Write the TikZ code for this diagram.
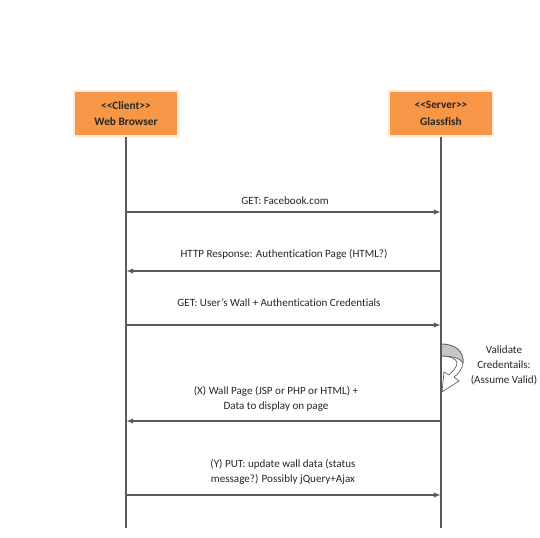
\documentclass[tikz,border=0pt]{standalone}
\usepackage{fontspec}
\setmainfont{Carlito}[Ligatures=NoCommon]
\usetikzlibrary{arrows.meta}
\definecolor{boxorange}{HTML}{F79646}
\definecolor{boxedge}{HTML}{FDEADA}
\definecolor{linegray}{HTML}{5A5A5A}
\definecolor{txt}{HTML}{262626}
\begin{document}
\begin{tikzpicture}[x=0.75pt,y=-0.75pt,
  actor/.style={draw=boxedge,line width=1.2pt,fill=boxorange,minimum width=78pt,minimum height=34pt,
    align=center,font=\fontsize{8.5}{12.5}\selectfont\bfseries,text=txt,inner sep=0pt},
  lifeline/.style={draw=linegray,line width=0.8pt},
  msg/.style={draw=linegray,line width=0.8pt,-{Latex[length=5pt,width=4pt]},shorten >=0.3pt},
  lbl/.style={font=\fontsize{8.3}{11.3}\selectfont,text=txt,align=center,inner sep=0pt}]
\useasboundingbox (0,0) rectangle (540,538);
% shadows
\fill[black!25] (75,135.5) rectangle (178,137.5);
\fill[black!25] (389,135.5) rectangle (494,137.5);
\node[actor] (client) at (126,113.5) {{<}{<}Client{>}{>}\\Web Browser};
\node[actor] (server) at (441,113.5) {{<}{<}Server{>}{>}\\Glassfish};
\coordinate (cend) at (126,528);
\coordinate (send) at (441,528);
\draw[lifeline] (client.south) -- (cend);
\draw[lifeline] (server.south) -- (send);
% message points
\coordinate (c1) at (126,212); \coordinate (s1) at (441,212);
\coordinate (c2) at (126,271); \coordinate (s2) at (441,271);
\coordinate (c3) at (126,325); \coordinate (s3) at (441,325);
\coordinate (c4) at (126,421); \coordinate (s4) at (441,421);
\coordinate (c5) at (126,495); \coordinate (s5) at (441,495);
\draw[msg] (c1) -- (s1);
\draw[msg] (s2) -- (c2);
\draw[msg] (c3) -- (s3);
\draw[msg] (s4) -- (c4);
\draw[msg] (c5) -- (s5);
\node[lbl] (l1) at (285,201) {GET: Facebook.com};
\node[lbl] (l2) at (284,254) {HTTP Response: Authentication Page (HTML?)};
\node[lbl] (l3) at (279,303) {GET: User’s Wall + Authentication Credentials};
\node[lbl] (l4) at (276,398.5) {(X) Wall Page (JSP or PHP or HTML) +\\Data to display on page};
\node[lbl] (l5) at (283,471.5) {(Y) PUT: update wall data (status\\message?) Possibly jQuery+Ajax};
\node[lbl] (l6) at (504,365) {Validate\\Credentails:\\(Assume Valid)};
% self curved arrow
\fill[white,draw=linegray,line width=0.5pt]
  (441,344) .. controls (456,344) and (464,352) .. (463,363)
  .. controls (462,370) and (458,374) .. (454,377)
  -- (459,381) -- (442,392) -- (444,372) -- (449,375)
  .. controls (453,371) and (457,367) .. (457,363)
  .. controls (457,359) and (450,356) .. (441,356);
\fill[black!22,draw=linegray,line width=0.5pt]
  (441,344) .. controls (456,344) and (464,352) .. (463,363)
  .. controls (460,358) and (452,356) .. (441,356) -- cycle;
\draw[lifeline] (441,340) -- (441,398);
\end{tikzpicture}
\end{document}
